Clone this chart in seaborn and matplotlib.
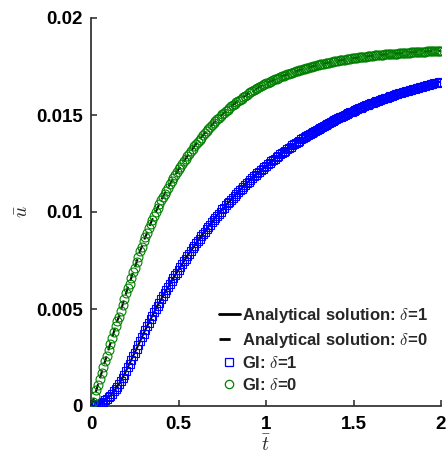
import numpy as np
import pandas as pd
import matplotlib
matplotlib.use("Agg")
import matplotlib.pyplot as plt
import seaborn as sns
from matplotlib.lines import Line2D

# ---------------- data ----------------
t_start, t_end, n_pts = 0.0, 2.0, 201
t = np.linspace(t_start, t_end, n_pts)

u_delta1 = [
    0, 0.00001, 0.00003, 0.00005, 0.00008, 0.00012, 0.00017, 0.00023, 0.0003, 0.00037,
    0.00045, 0.00054, 0.00064, 0.00075, 0.00087, 0.001, 0.00114, 0.00129, 0.00145, 0.00162,
    0.0018, 0.00199, 0.00218, 0.00237, 0.00256, 0.00275, 0.00294, 0.00314, 0.00334, 0.00354,
    0.00373, 0.00392, 0.0041, 0.00429, 0.00447, 0.00465, 0.00483, 0.005, 0.00517, 0.00533,
    0.00549, 0.00565, 0.00581, 0.00597, 0.00613, 0.00628, 0.00643, 0.00658, 0.00673, 0.00688,
    0.00703, 0.00717, 0.00731, 0.00745, 0.00759, 0.00773, 0.00786, 0.00799, 0.00812, 0.00826,
    0.00839, 0.00851, 0.00863, 0.00875, 0.00887, 0.00899, 0.00911, 0.00923, 0.00935, 0.00947,
    0.00959, 0.0097, 0.00981, 0.00992, 0.01002, 0.01013, 0.01023, 0.01034, 0.01044, 0.01054,
    0.01064, 0.01074, 0.01083, 0.01093, 0.01102, 0.01111, 0.01121, 0.0113, 0.01139, 0.01148,
    0.01157, 0.01166, 0.01174, 0.01183, 0.01191, 0.01199, 0.01207, 0.01215, 0.01223, 0.01231,
    0.01239, 0.01246, 0.01254, 0.01261, 0.01268, 0.01275, 0.01283, 0.0129, 0.01297, 0.01304,
    0.01311, 0.01317, 0.01324, 0.0133, 0.01337, 0.01343, 0.01349, 0.01356, 0.01362, 0.01368,
    0.01374, 0.0138, 0.01385, 0.01391, 0.01397, 0.01402, 0.01408, 0.01413, 0.01419, 0.01424,
    0.0143, 0.01435, 0.0144, 0.01445, 0.0145, 0.01455, 0.0146, 0.01465, 0.0147, 0.01474,
    0.01479, 0.01483, 0.01488, 0.01492, 0.01496, 0.01501, 0.01505, 0.01509, 0.01513, 0.01518,
    0.01522, 0.01526, 0.0153, 0.01534, 0.01537, 0.01541, 0.01545, 0.01549, 0.01552, 0.01556,
    0.0156, 0.01563, 0.01567, 0.0157, 0.01574, 0.01577, 0.0158, 0.01584, 0.01587, 0.0159,
    0.01594, 0.01597, 0.016, 0.01603, 0.01606, 0.01609, 0.01611, 0.01614, 0.01617, 0.0162,
    0.01623, 0.01626, 0.01628, 0.01631, 0.01633, 0.01636, 0.01639, 0.01641, 0.01644, 0.01646,
    0.01649, 0.01651, 0.01654, 0.01656, 0.01658, 0.0166, 0.01663, 0.01665, 0.01667, 0.0167,
    0.01672,
]

u_delta0 = [
    0, 0.0002, 0.0005, 0.0008, 0.0011, 0.0014, 0.0017, 0.002, 0.0023, 0.0026,
    0.0029, 0.0032, 0.0035, 0.0038, 0.0041, 0.0044, 0.0046, 0.0049, 0.0052, 0.0055,
    0.0058, 0.0061, 0.0063, 0.0066, 0.0069, 0.0071, 0.0074, 0.0077, 0.008, 0.0082,
    0.0085, 0.0087, 0.0089, 0.0092, 0.0094, 0.0096, 0.0098, 0.01, 0.0102, 0.0104,
    0.0106, 0.01077, 0.01094, 0.0111, 0.01126, 0.01142, 0.01158, 0.01174, 0.0119, 0.01205,
    0.0122, 0.01234, 0.01248, 0.01261, 0.01274, 0.01287, 0.013, 0.01313, 0.01326, 0.01338,
    0.0135, 0.01362, 0.01373, 0.01384, 0.01395, 0.01406, 0.01417, 0.01428, 0.01438, 0.01448,
    0.01459, 0.01468, 0.01477, 0.01486, 0.01494, 0.01503, 0.01511, 0.0152, 0.01528, 0.01536,
    0.01544, 0.01551, 0.01558, 0.01565, 0.01572, 0.01578, 0.01585, 0.01592, 0.01598, 0.01605,
    0.01611, 0.01616, 0.01622, 0.01627, 0.01632, 0.01637, 0.01643, 0.01648, 0.01653, 0.01658,
    0.01663, 0.01667, 0.01671, 0.01675, 0.01679, 0.01683, 0.01687, 0.01691, 0.01695, 0.01699,
    0.01703, 0.01706, 0.01709, 0.01712, 0.01716, 0.01719, 0.01722, 0.01725, 0.01728, 0.01731,
    0.01734, 0.01737, 0.01739, 0.01742, 0.01744, 0.01747, 0.01749, 0.01752, 0.01754, 0.01757,
    0.01759, 0.01761, 0.01763, 0.01765, 0.01767, 0.01769, 0.0177, 0.01772, 0.01774, 0.01776,
    0.01778, 0.0178, 0.01781, 0.01783, 0.01784, 0.01786, 0.01787, 0.01789, 0.0179, 0.01792,
    0.01793, 0.01794, 0.01795, 0.01797, 0.01798, 0.01799, 0.018, 0.01801, 0.01802, 0.01804,
    0.01805, 0.01806, 0.01807, 0.01808, 0.01809, 0.01809, 0.0181, 0.01811, 0.01812, 0.01813,
    0.01814, 0.01815, 0.01815, 0.01816, 0.01817, 0.01817, 0.01818, 0.01819, 0.01819, 0.0182,
    0.01821, 0.01822, 0.01822, 0.01823, 0.01823, 0.01824, 0.01824, 0.01825, 0.01826, 0.01826,
    0.01827, 0.01827, 0.01828, 0.01828, 0.01829, 0.01829, 0.01829, 0.0183, 0.0183, 0.01831,
    0.01831,
]

x_ticks = [0, 0.5, 1, 1.5, 2]
x_tick_labels = ["0", "0.5", "1", "1.5", "2"]
y_ticks = [0, 0.005, 0.01, 0.015, 0.02]
y_tick_labels = ["0", "0.005", "0.01", "0.015", "0.02"]

labels = [r"Analytical solution: $\delta$=1", r"Analytical solution: $\delta$=0",
          r"GI: $\delta$=1", r"GI: $\delta$=0"]

# ---------------- style ----------------
sns.set_theme(style="ticks")
plt.rcParams["font.family"] = ["Liberation Sans", "DejaVu Sans"]
plt.rcParams["font.weight"] = "bold"
plt.rcParams["mathtext.fontset"] = "cm"

BLUE = "#0000ff"
GREEN = "#008000"
SPINE = "#262626"

df = pd.DataFrame({"t": t, "u1": u_delta1, "u0": u_delta0})

fig = plt.figure(figsize=(4.48, 4.54), dpi=100)
ax = fig.add_axes([91 / 448, 48 / 454, 350 / 448, 388 / 454])

# analytical solutions (lines)
sns.lineplot(data=df, x="t", y="u1", ax=ax, color="black", lw=1.5,
             sort=False, estimator=None, zorder=2)
sns.lineplot(data=df, x="t", y="u0", ax=ax, color="black", lw=1.5,
             dashes=False, sort=False, estimator=None, zorder=2, linestyle=(0, (4, 3)))

# GI markers
sns.lineplot(data=df, x="t", y="u1", ax=ax, linestyle="", marker="s",
             markersize=5.6, markerfacecolor="none", markeredgecolor=BLUE,
             markeredgewidth=0.8, sort=False, estimator=None, zorder=3)
sns.lineplot(data=df, x="t", y="u0", ax=ax, linestyle="", marker="o",
             markersize=6.4, markerfacecolor="none", markeredgecolor=GREEN,
             markeredgewidth=0.8, sort=False, estimator=None, zorder=3)

ax.set_xlim(0, 2)
ax.set_ylim(0, 0.02)
ax.set_xticks(x_ticks)
ax.set_xticklabels(x_tick_labels)
ax.set_yticks(y_ticks)
ax.set_yticklabels(y_tick_labels)

for side in ["top", "right"]:
    ax.spines[side].set_visible(False)
for side in ["left", "bottom"]:
    ax.spines[side].set_color(SPINE)
    ax.spines[side].set_linewidth(1.2)

ax.tick_params(axis="both", direction="in", length=4, width=1.1, color=SPINE,
               labelsize=13.5, labelcolor="black")
ax.tick_params(axis="x", pad=7)
ax.tick_params(axis="y", pad=6)
for lab in ax.get_xticklabels() + ax.get_yticklabels():
    lab.set_fontweight("bold")

ax.set_xlabel(r"$\bar{t}$", fontsize=14)
ax.set_ylabel(r"$\bar{u}$", fontsize=14)
ax.xaxis.set_label_coords(0.5, -0.074)
ax.yaxis.set_label_coords(-0.17, 0.5)

handles = [
    Line2D([], [], color="black", lw=2),
    Line2D([], [], color="black", lw=2, linestyle=(0, (4, 8))),
    Line2D([], [], linestyle="", marker="s", markersize=5.5, markerfacecolor="none",
           markeredgecolor=BLUE, markeredgewidth=0.9),
    Line2D([], [], linestyle="", marker="o", markersize=6, markerfacecolor="none",
           markeredgecolor=GREEN, markeredgewidth=0.9),
]
leg = ax.legend(handles, labels, loc="lower right", frameon=False,
                prop={"weight": "bold", "size": 12}, handlelength=1.3,
                handletextpad=0.1, labelspacing=0.33, borderaxespad=0.4,
                borderpad=0.4)

fig.savefig("out.png", dpi=100)
